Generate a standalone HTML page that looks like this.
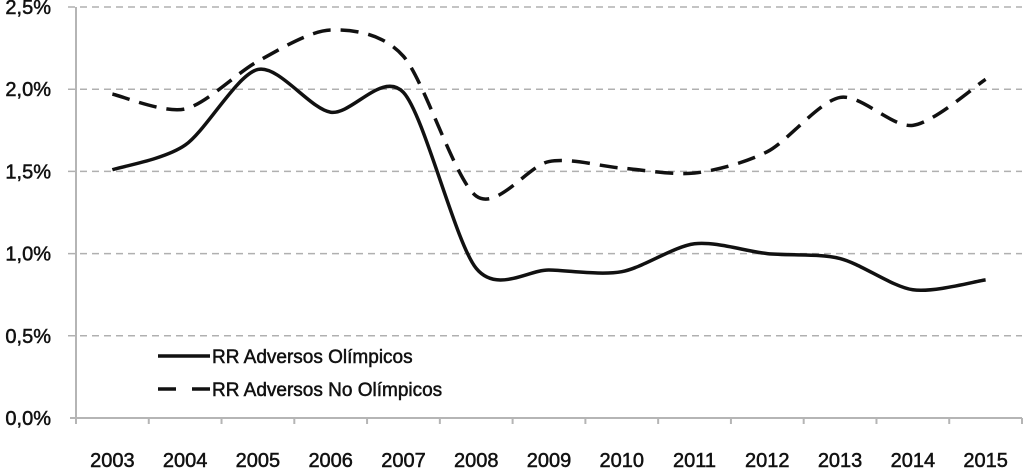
<!DOCTYPE html>
<html><head><meta charset="utf-8"><style>
body{margin:0;background:#fff;}
svg text{font-family:"Liberation Sans",sans-serif;fill:#111;stroke:#111;stroke-width:0.5;}
</style></head><body>
<svg id="chart" width="1024" height="471"></svg>
<script>
const categories=["2003","2004","2005","2006","2007","2008","2009","2010","2011","2012","2013","2014","2015"];
const olimpicos=[1.51,1.66,2.12,1.86,1.98,0.91,0.90,0.89,1.06,1.00,0.97,0.78,0.84];
const noOlimpicos=[1.97,1.88,2.17,2.36,2.20,1.35,1.56,1.52,1.49,1.62,1.95,1.78,2.06];
const yTicks=[0,0.5,1.0,1.5,2.0,2.5];
const yTickLabels=["0,0%","0,5%","1,0%","1,5%","2,0%","2,5%"];
const seriesNames=["RR Adversos Olímpicos","RR Adversos No Olímpicos"];

const NS="http://www.w3.org/2000/svg";
const svg=document.getElementById('chart');
const X0=76,X1=1022,Y0=418,Y1=7,YMAX=2.5;
const bw=(X1-X0)/categories.length;
const xs=i=>X0+bw*(i+0.5);
const ys=v=>Y0-(v/YMAX)*(Y0-Y1);
function mk(t,a){const e=document.createElementNS(NS,t);for(const k in a)e.setAttribute(k,a[k]);svg.appendChild(e);return e;}

yTicks.forEach((v,i)=>{
  if(v>0){const g=mk('line',{x1:X0-8,x2:X1,y1:ys(v),y2:ys(v),stroke:'#b0b0b0','stroke-width':1.5,'stroke-dasharray':'7,5'});
  
  }
  const t=mk('text',{x:51,y:ys(v)+7,'text-anchor':'end','font-size':20});
  t.textContent=yTickLabels[i];
  
  
});
const ya=mk('line',{x1:X0,x2:X0,y1:Y1,y2:Y0+6,stroke:'#b5b5b5','stroke-width':2});


const xa=mk('line',{x1:X0-6,x2:X1,y1:Y0,y2:Y0,stroke:'#b5b5b5','stroke-width':2});


for(let i=0;i<=categories.length;i++){
  const tk=mk('line',{x1:X0+bw*i,x2:X0+bw*i,y1:Y0,y2:Y0+6,stroke:'#b5b5b5','stroke-width':2});
  
  
}
categories.forEach((c,i)=>{
  const t=mk('text',{x:xs(i),y:467,'text-anchor':'middle','font-size':20});
  t.textContent=c;
  
  
});
function smooth(vals){
  const p=vals.map((v,i)=>[xs(i),ys(v)]);
  let d=`M${p[0][0]},${p[0][1]}`;
  const k=7;
  for(let i=0;i<p.length-1;i++){
    const p0=p[i-1]||p[i],p1=p[i],p2=p[i+1],p3=p[i+2]||p2;
    const c1=[p1[0]+(p2[0]-p0[0])/k,p1[1]+(p2[1]-p0[1])/k];
    const c2=[p2[0]-(p3[0]-p1[0])/k,p2[1]-(p3[1]-p1[1])/k];
    d+=` C${c1[0]},${c1[1]} ${c2[0]},${c2[1]} ${p2[0]},${p2[1]}`;
  }
  return d;
}
const l2=mk('path',{d:smooth(noOlimpicos),fill:'none',stroke:'#111','stroke-width':3.5,'stroke-dasharray':'18,10'});


const l1=mk('path',{d:smooth(olimpicos),fill:'none',stroke:'#111','stroke-width':3.5});



const lg1=mk('line',{x1:158,x2:210,y1:356,y2:356,stroke:'#111','stroke-width':3.5});


const lt1=mk('text',{x:212,y:363,'font-size':19});
lt1.textContent=seriesNames[0];


const lg2=mk('line',{x1:158,x2:210,y1:389,y2:389,stroke:'#111','stroke-width':3.5,'stroke-dasharray':'18,16'});


const lt2=mk('text',{x:212,y:396,'font-size':19});
lt2.textContent=seriesNames[1];


</script>
</body></html>
